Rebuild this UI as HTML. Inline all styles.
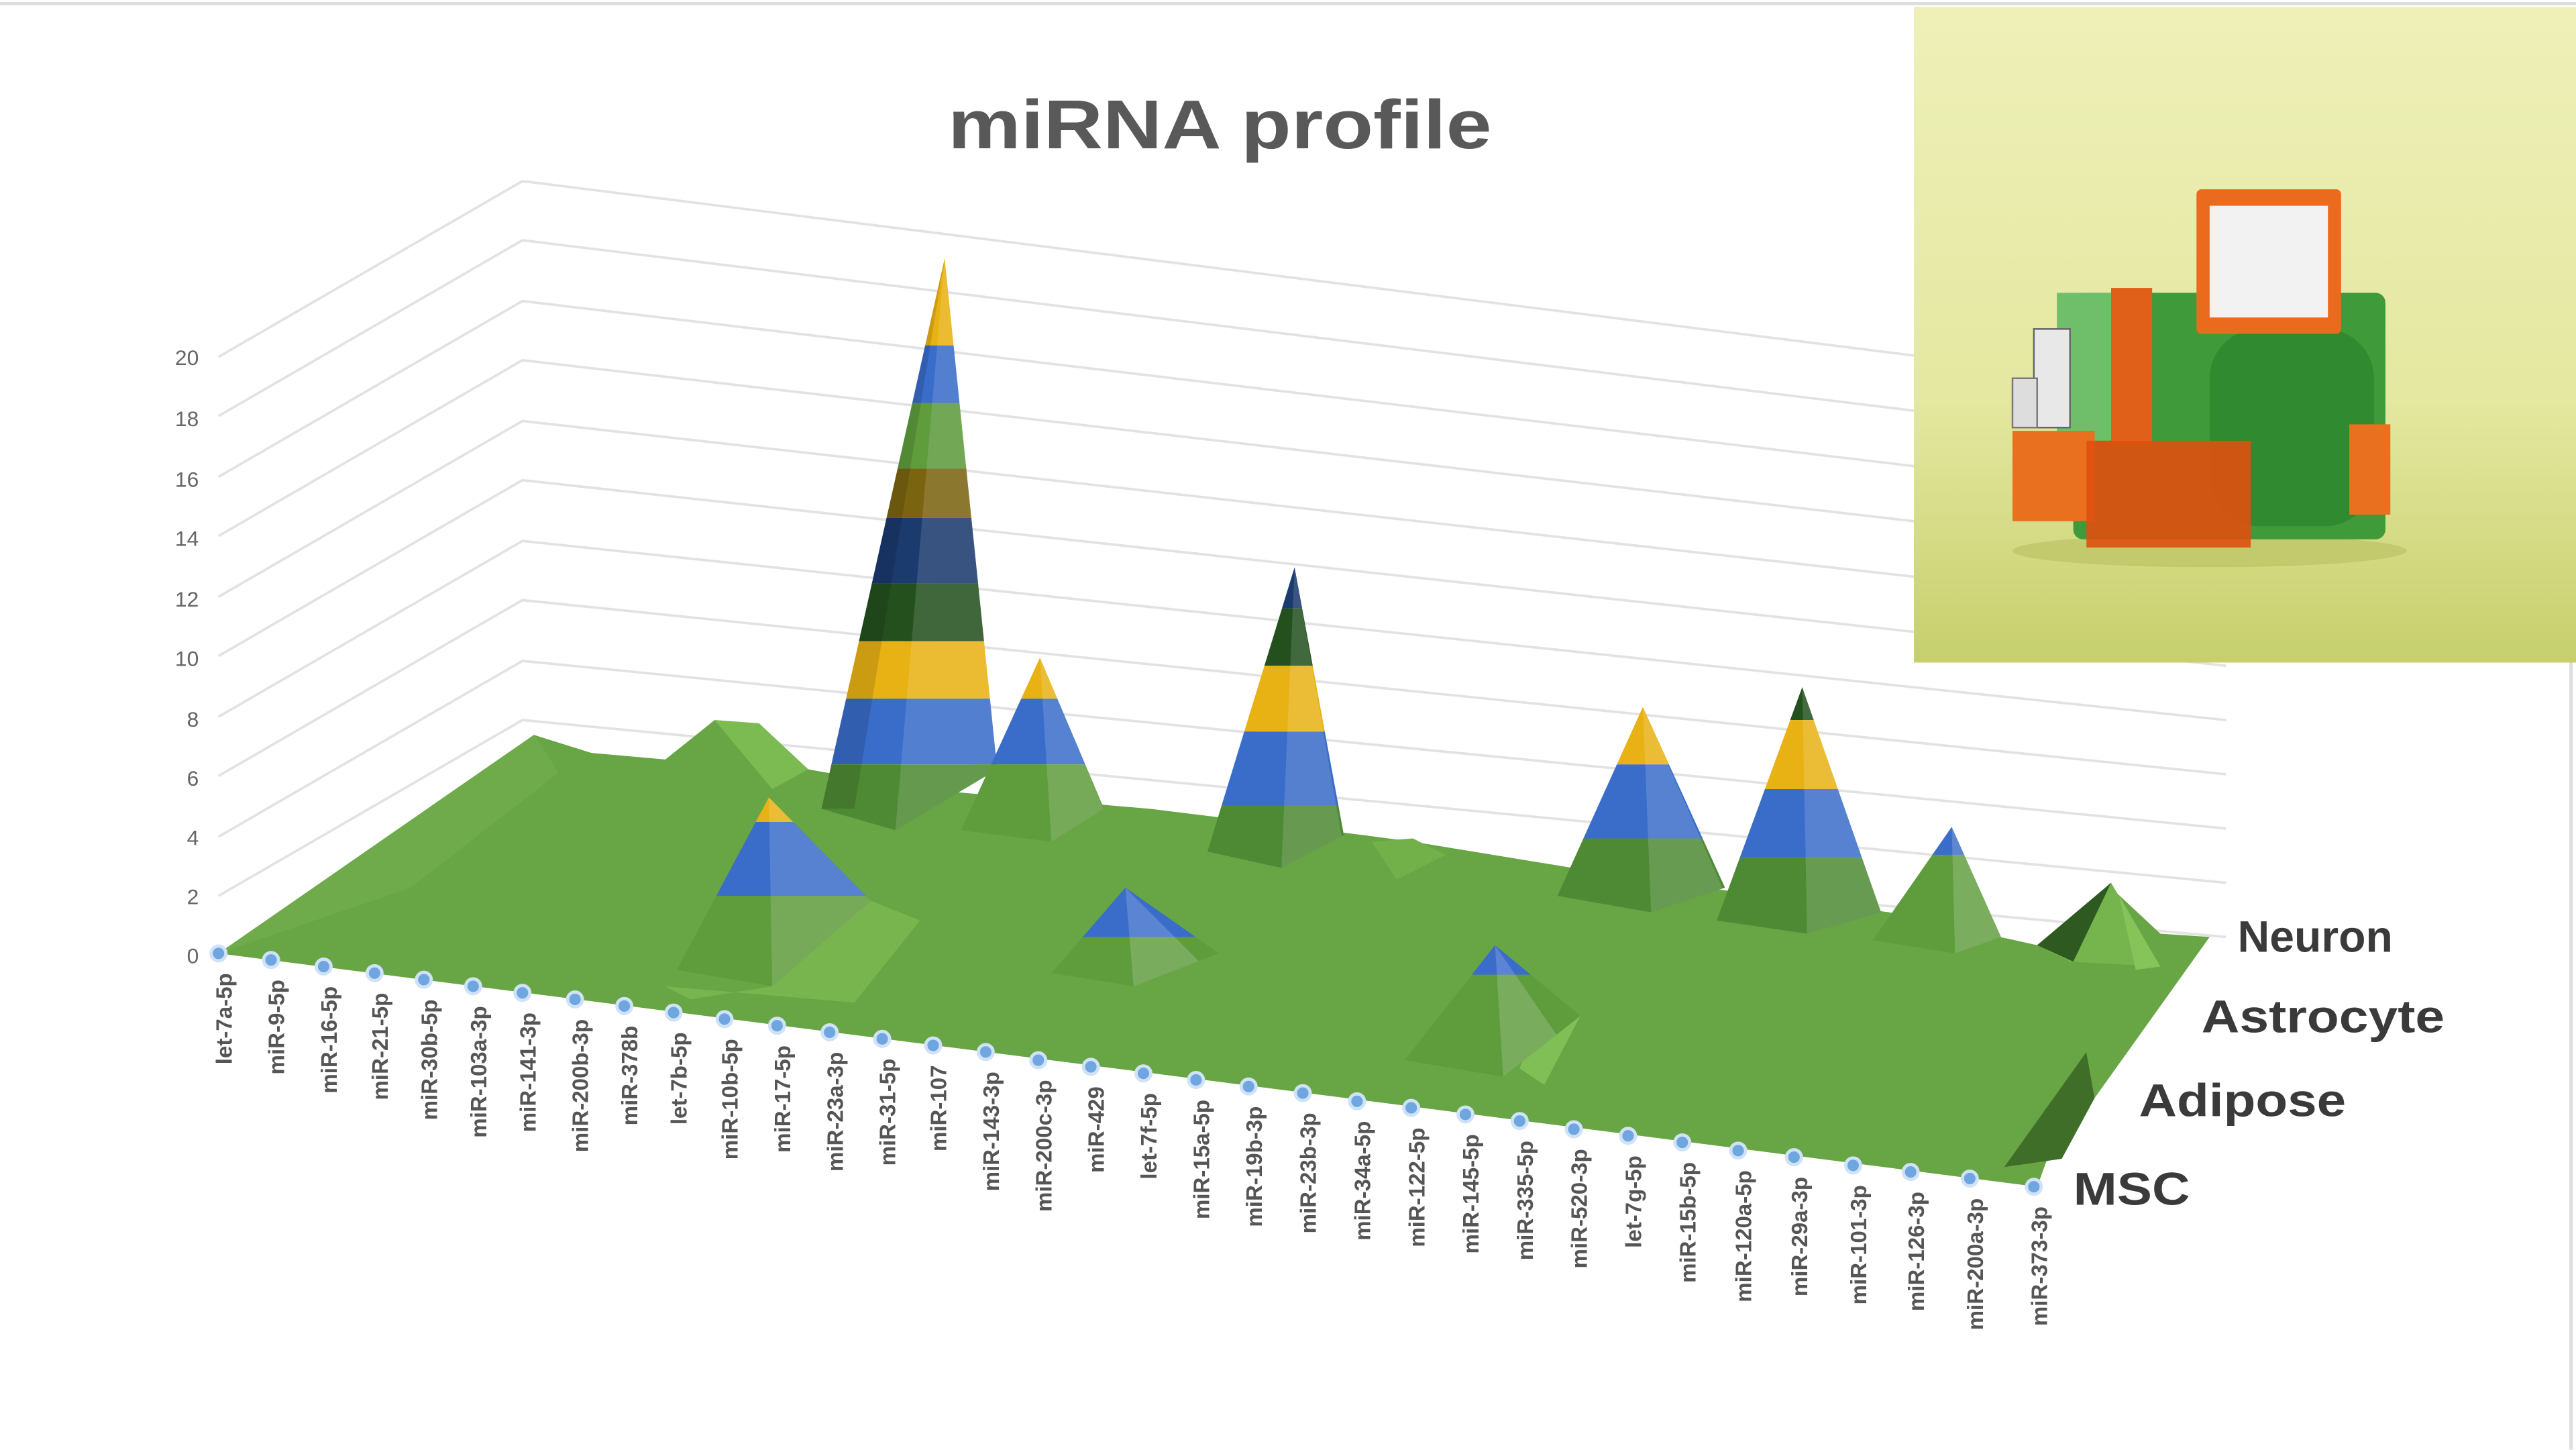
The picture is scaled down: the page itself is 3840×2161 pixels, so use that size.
<!DOCTYPE html>
<html><head><meta charset="utf-8"><style>
html,body{margin:0;padding:0;background:#fff;}
svg{display:block;}
</style></head><body>
<svg width="3840" height="2161" viewBox="0 0 1568 882" xmlns="http://www.w3.org/2000/svg" font-family="Liberation Sans, sans-serif">
<defs>
<linearGradient id="bg" x1="0" y1="0" x2="0" y2="1"><stop offset="0" stop-color="#eef0b8"/><stop offset="0.6" stop-color="#e4e8a0"/><stop offset="1" stop-color="#c6cf6c"/></linearGradient>
<clipPath id="p1"><polygon points="575,157 500,492 545,505 607,468"/></clipPath>
<clipPath id="p2"><polygon points="633,400 585,505 640,512 672,492"/></clipPath>
<clipPath id="p3"><polygon points="788,345 735,518 780,528 818,508"/></clipPath>
<clipPath id="p4"><polygon points="1000,430 948,545 1005,555 1050,540"/></clipPath>
<clipPath id="p5"><polygon points="1097,418 1045,560 1100,568 1145,555"/></clipPath>
<clipPath id="p6"><polygon points="1188,503 1140,572 1190,580 1218,570"/></clipPath>
<clipPath id="p8"><polygon points="468,485 412,590 470,600 530,548"/></clipPath>
<clipPath id="p9"><polygon points="685,540 640,592 690,600 742,580"/></clipPath>
<clipPath id="p10"><polygon points="910,575 855,645 915,655 962,618"/></clipPath>
</defs>
<rect width="1568" height="882" fill="#fff"/>
<line x1="0" y1="2" x2="1568" y2="2" stroke="#ddd" stroke-width="2"/>
<line x1="1565" y1="400" x2="1565" y2="882" stroke="#ddd" stroke-width="2"/>

<g stroke="#e2e2e2" stroke-width="1.5" fill="none">
<polyline points="133,582 318,475 1355,570"/>
<polyline points="133,545 318,438 1355,537"/>
<polyline points="133,509 318,402 1355,504"/>
<polyline points="133,472 318,365 1355,471"/>
<polyline points="133,436 318,329 1355,438"/>
<polyline points="133,399 318,292 1355,405"/>
<polyline points="133,363 318,256 1355,372"/>
<polyline points="133,326 318,219 1355,339"/>
<polyline points="133,290 318,183 1355,306"/>
<polyline points="133,253 318,146 1355,273"/>
<polyline points="133,217 318,110 1355,240"/>
</g>
<g font-size="13" fill="#666" text-anchor="end">
<text x="121" y="586">0</text><text x="121" y="550">2</text><text x="121" y="514">4</text><text x="121" y="478">6</text><text x="121" y="442">8</text><text x="121" y="405">10</text><text x="121" y="369">12</text><text x="121" y="332">14</text><text x="121" y="296">16</text><text x="121" y="259">18</text><text x="121" y="222">20</text>
</g>

<polygon points="133,580 325,447 360,458 405,462 435,438 462,440 492,468 560,480 700,492 830,508 860,512 1000,535 1150,555 1240,575 1285,540 1315,568 1345,570 1275,668 1270,640 1240,722" fill="#68a545"/>
<polygon points="133,580 325,447 340,470 250,540" fill="#6fab4a"/>
<polygon points="435,438 462,440 492,468 470,480" fill="#7cbb52"/>
<polygon points="405,600 420,608 470,600 530,548 560,560 520,610" fill="#78b54e"/>
<polygon points="1220,710 1270,640 1275,668 1255,705" fill="#3e6e28"/>
<polygon points="1240,575 1285,537 1315,588 1260,585" fill="#76b44d"/>
<polygon points="1240,575 1285,537 1262,585" fill="#2e5a22"/>
<polygon points="1290,545 1315,588 1300,590" fill="#86c45a"/>
<polygon points="835,512 860,510 880,520 850,535" fill="#72b04a"/>
<polygon points="940,610 962,618 940,660 925,650" fill="#80bf55"/>

<g clip-path="url(#p1)">
<rect x="480" y="150" width="140" height="60" fill="#e8b214"/><rect x="480" y="210" width="140" height="35" fill="#3a6cc9"/><rect x="480" y="245" width="140" height="40" fill="#5e9c3c"/><rect x="480" y="285" width="140" height="30" fill="#7a6410"/><rect x="480" y="315" width="140" height="40" fill="#1b3a6e"/><rect x="480" y="355" width="140" height="35" fill="#24501e"/><rect x="480" y="390" width="140" height="35" fill="#e8b214"/><rect x="480" y="425" width="140" height="40" fill="#3a6cc9"/><rect x="480" y="465" width="140" height="45" fill="#4e8a34"/>
<polygon points="575,157 545,505 640,505" fill="#fff" opacity="0.13"/>
<polygon points="575,157 500,492 520,492" fill="#000" opacity="0.12"/>
</g>
<g clip-path="url(#p2)">
<rect x="580" y="395" width="100" height="30" fill="#e8b214"/><rect x="580" y="425" width="100" height="40" fill="#3a6cc9"/><rect x="580" y="465" width="100" height="50" fill="#5e9c3c"/>
<polygon points="633,400 640,512 680,512" fill="#fff" opacity="0.15"/>
</g>
<g clip-path="url(#p3)">
<rect x="730" y="340" width="95" height="30" fill="#1b3a6e"/><rect x="730" y="370" width="95" height="35" fill="#24501e"/><rect x="730" y="405" width="95" height="40" fill="#e8b214"/><rect x="730" y="445" width="95" height="45" fill="#3a6cc9"/><rect x="730" y="490" width="95" height="40" fill="#4e8a34"/>
<polygon points="788,345 780,528 820,528" fill="#fff" opacity="0.14"/>
</g>
<g clip-path="url(#p4)">
<rect x="940" y="425" width="115" height="40" fill="#e8b214"/><rect x="940" y="465" width="115" height="45" fill="#3a6cc9"/><rect x="940" y="510" width="115" height="50" fill="#4e8a34"/>
<polygon points="1000,430 1005,555 1055,555" fill="#fff" opacity="0.15"/>
</g>
<g clip-path="url(#p5)">
<rect x="1040" y="413" width="110" height="25" fill="#24501e"/><rect x="1040" y="438" width="110" height="42" fill="#e8b214"/><rect x="1040" y="480" width="110" height="42" fill="#3a6cc9"/><rect x="1040" y="522" width="110" height="50" fill="#4e8a34"/>
<polygon points="1097,418 1100,568 1150,568" fill="#fff" opacity="0.15"/>
</g>
<g clip-path="url(#p6)">
<rect x="1135" y="498" width="90" height="22" fill="#3a6cc9"/><rect x="1135" y="520" width="90" height="65" fill="#5e9c3c"/>
<polygon points="1188,503 1190,580 1225,580" fill="#fff" opacity="0.18"/>
</g>
<g clip-path="url(#p8)">
<rect x="405" y="480" width="130" height="20" fill="#e8b214"/><rect x="405" y="500" width="130" height="45" fill="#3a6cc9"/><rect x="405" y="545" width="130" height="60" fill="#5e9c3c"/>
<polygon points="468,485 470,600 540,600 530,548" fill="#fff" opacity="0.15"/>
</g>
<g clip-path="url(#p9)">
<rect x="635" y="535" width="110" height="35" fill="#3a6cc9"/><rect x="635" y="570" width="110" height="35" fill="#5e9c3c"/>
<polygon points="685,540 690,600 745,600" fill="#fff" opacity="0.17"/>
</g>
<g clip-path="url(#p10)">
<rect x="850" y="570" width="115" height="23" fill="#3a6cc9"/><rect x="850" y="593" width="115" height="65" fill="#5e9c3c"/>
<polygon points="910,575 915,655 965,655" fill="#fff" opacity="0.17"/>
</g>

<g fill="#6fa6e0" stroke="#cfe2f6" stroke-width="2">
<circle cx="133" cy="580" r="4.5"/><circle cx="165" cy="584" r="4.5"/><circle cx="197" cy="588" r="4.5"/><circle cx="228" cy="592" r="4.5"/><circle cx="258" cy="596" r="4.5"/><circle cx="288" cy="600" r="4.5"/><circle cx="318" cy="604" r="4.5"/><circle cx="350" cy="608" r="4.5"/><circle cx="380" cy="612" r="4.5"/><circle cx="410" cy="616" r="4.5"/><circle cx="441" cy="620" r="4.5"/><circle cx="473" cy="624" r="4.5"/><circle cx="505" cy="628" r="4.5"/><circle cx="537" cy="632" r="4.5"/><circle cx="568" cy="636" r="4.5"/><circle cx="600" cy="640" r="4.5"/><circle cx="632" cy="645" r="4.5"/><circle cx="664" cy="649" r="4.5"/><circle cx="696" cy="653" r="4.5"/><circle cx="728" cy="657" r="4.5"/><circle cx="760" cy="661" r="4.5"/><circle cx="793" cy="665" r="4.5"/><circle cx="826" cy="670" r="4.5"/><circle cx="859" cy="674" r="4.5"/><circle cx="892" cy="678" r="4.5"/><circle cx="925" cy="682" r="4.5"/><circle cx="958" cy="687" r="4.5"/><circle cx="991" cy="691" r="4.5"/><circle cx="1024" cy="695" r="4.5"/><circle cx="1058" cy="700" r="4.5"/><circle cx="1092" cy="704" r="4.5"/><circle cx="1128" cy="709" r="4.5"/><circle cx="1163" cy="713" r="4.5"/><circle cx="1199" cy="717" r="4.5"/><circle cx="1238" cy="722" r="4.5"/>
</g>
<g font-size="13.5" font-weight="bold" fill="#555" text-anchor="end">
<text transform="translate(141,592) rotate(-90)">let-7a-5p</text>
<text transform="translate(173,596) rotate(-90)">miR-9-5p</text>
<text transform="translate(205,600) rotate(-90)">miR-16-5p</text>
<text transform="translate(236,604) rotate(-90)">miR-21-5p</text>
<text transform="translate(266,608) rotate(-90)">miR-30b-5p</text>
<text transform="translate(296,612) rotate(-90)">miR-103a-3p</text>
<text transform="translate(326,616) rotate(-90)">miR-141-3p</text>
<text transform="translate(358,620) rotate(-90)">miR-200b-3p</text>
<text transform="translate(388,624) rotate(-90)">miR-378b</text>
<text transform="translate(418,628) rotate(-90)">let-7b-5p</text>
<text transform="translate(449,632) rotate(-90)">miR-10b-5p</text>
<text transform="translate(481,636) rotate(-90)">miR-17-5p</text>
<text transform="translate(513,640) rotate(-90)">miR-23a-3p</text>
<text transform="translate(545,644) rotate(-90)">miR-31-5p</text>
<text transform="translate(576,648) rotate(-90)">miR-107</text>
<text transform="translate(608,652) rotate(-90)">miR-143-3p</text>
<text transform="translate(640,657) rotate(-90)">miR-200c-3p</text>
<text transform="translate(672,661) rotate(-90)">miR-429</text>
<text transform="translate(704,665) rotate(-90)">let-7f-5p</text>
<text transform="translate(736,669) rotate(-90)">miR-15a-5p</text>
<text transform="translate(768,673) rotate(-90)">miR-19b-3p</text>
<text transform="translate(801,677) rotate(-90)">miR-23b-3p</text>
<text transform="translate(834,682) rotate(-90)">miR-34a-5p</text>
<text transform="translate(867,686) rotate(-90)">miR-122-5p</text>
<text transform="translate(900,690) rotate(-90)">miR-145-5p</text>
<text transform="translate(933,694) rotate(-90)">miR-335-5p</text>
<text transform="translate(966,699) rotate(-90)">miR-520-3p</text>
<text transform="translate(999,703) rotate(-90)">let-7g-5p</text>
<text transform="translate(1032,707) rotate(-90)">miR-15b-5p</text>
<text transform="translate(1066,712) rotate(-90)">miR-120a-5p</text>
<text transform="translate(1100,716) rotate(-90)">miR-29a-3p</text>
<text transform="translate(1136,721) rotate(-90)">miR-101-3p</text>
<text transform="translate(1171,725) rotate(-90)">miR-126-3p</text>
<text transform="translate(1207,729) rotate(-90)">miR-200a-3p</text>
<text transform="translate(1246,734) rotate(-90)">miR-373-3p</text>
</g>
<g font-size="28" font-weight="bold" fill="#3a3a3a">
<text x="1362" y="579" font-size="27">Neuron</text>
<text x="1340" y="628" textLength="148" lengthAdjust="spacingAndGlyphs">Astrocyte</text>
<text x="1302" y="679" textLength="126" lengthAdjust="spacingAndGlyphs">Adipose</text>
<text x="1262" y="733" textLength="71" lengthAdjust="spacingAndGlyphs">MSC</text>
</g>
<text x="577" y="90" font-size="42" font-weight="bold" fill="#595959" textLength="331" lengthAdjust="spacingAndGlyphs">miRNA profile</text>

<rect x="1165" y="4" width="403" height="399" fill="url(#bg)"/>
<ellipse cx="1345" cy="335" rx="120" ry="10" fill="#b8bf60" opacity="0.6"/>
<rect x="1262" y="178" width="190" height="150" rx="6" fill="#3f9a3a"/>
<rect x="1345" y="200" width="100" height="120" rx="30" fill="#2f8a30"/>
<rect x="1252" y="178" width="40" height="90" fill="#6fbf6a"/>
<rect x="1285" y="175" width="25" height="95" fill="#e0601a"/>
<rect x="1337" y="115" width="88" height="88" rx="3" fill="#ea6a1e"/>
<rect x="1345" y="125" width="72" height="68" fill="#f2f2f2"/>
<rect x="1225" y="262" width="50" height="55" fill="#e8701e"/>
<rect x="1430" y="258" width="25" height="55" fill="#e8701e"/>
<rect x="1270" y="268" width="100" height="65" fill="#e05010" opacity="0.9"/>
<rect x="1238" y="200" width="22" height="60" fill="#e8e8e8" stroke="#666"/>
<rect x="1225" y="230" width="15" height="30" fill="#ddd" stroke="#777"/>
</svg>
</body></html>
